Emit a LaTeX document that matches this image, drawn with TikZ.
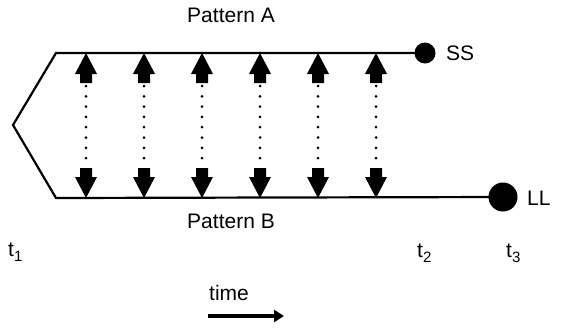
\documentclass[tikz,border=0pt]{standalone}
\usepackage{fontspec}
\setmainfont{Liberation Sans}
\usetikzlibrary{arrows.meta}
\tikzset{
  lbl/.style={font=\fontsize{21}{24}\selectfont, inner sep=0pt},
  rail/.style={line width=2.2pt, line join=miter},
  dotline/.style={line width=3pt, line cap=round, dash pattern=on 0pt off 10.3pt},
  endpt/.style={circle, fill=black, inner sep=0pt},
}
\newcommand{\tsub}[1]{t\raisebox{-5pt}{\fontsize{15}{17}\selectfont #1}}
\begin{document}
\begin{tikzpicture}[x=1pt,y=-1pt]
\useasboundingbox (0,0) rectangle (561,327);
% end points
\node[endpt, minimum size=21pt] (ss) at (425,53) {};
\node[endpt, minimum size=29pt] (ll) at (503,197) {};
\coordinate (tipL) at (13,125);
\coordinate (tl) at (56,53);
\coordinate (bl) at (56,198);
\draw[rail] (ss.center) -- (tl) -- (tipL) -- (bl) -- (ll.center);
% labels
\node[lbl] (pa) at (231,15) {Pattern A};
\node[lbl] (pb) at (231,221) {Pattern B};
\node[lbl, anchor=west] (sslbl) at (446,53) {SS};
\node[lbl, anchor=west] (lllbl) at (527,198) {LL};
\node[lbl, anchor=base west] (t1) at (8,256) {\tsub{1}};
\node[lbl, anchor=base west] (t2) at (417,257) {\tsub{2}};
\node[lbl, anchor=base west] (t3) at (506,257) {\tsub{3}};
\node[lbl, anchor=base west] (time) at (209,300) {time};
% time arrow
\coordinate (ta) at (208,316);
\coordinate (tb) at (284,316);
\draw[line width=3.5pt, -{Triangle[length=10pt,width=12pt]}] (ta) -- (tb);
% double arrows
\foreach \x [count=\i] in {86,144,202,260,318,376}{
  \coordinate (a\i) at (\x,53);
  \coordinate (b\i) at (\x,198);
  \fill (a\i) -- ++(11,21) -- ++(-5,0) -- ++(0,9) -- ++(-12,0) -- ++(0,-9) -- ++(-5,0) -- cycle;
  \fill (b\i) -- ++(11,-21) -- ++(-5,0) -- ++(0,-9) -- ++(-12,0) -- ++(0,9) -- ++(-5,0) -- cycle;
  \draw[dotline] ([yshift=-33pt]a\i) -- ([yshift=30pt]b\i);
}
\end{tikzpicture}
\end{document}
